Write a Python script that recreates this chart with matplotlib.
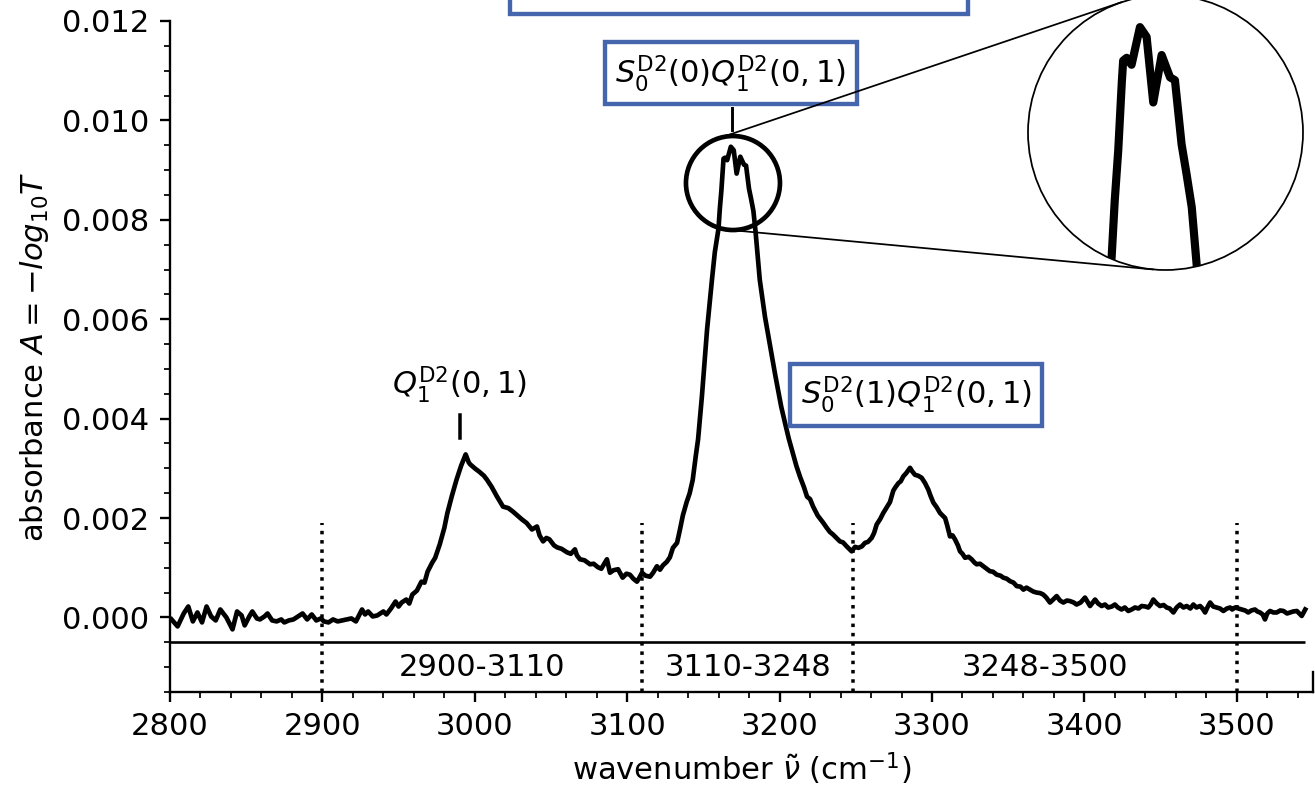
import numpy as np
import matplotlib
matplotlib.use("Agg")
import matplotlib.pyplot as plt
from matplotlib.patches import Circle, Ellipse, Rectangle
from matplotlib.lines import Line2D
from matplotlib.ticker import MultipleLocator, FormatStrFormatter

plt.rcParams["font.size"] = 10.5

# spectrum, split into pieces
wn_base = [2801, 2805, 2809, 2812, 2815, 2818, 2821, 2824, 2827, 2830, 2833, 2837, 2841, 2844,
           2847, 2849, 2852, 2854, 2857, 2859, 2862, 2864, 2867, 2870, 2873, 2875, 2878, 2881,
           2884, 2887, 2890, 2893, 2896, 2899, 2901, 2904, 2907, 2910, 2913, 2916, 2919, 2922,
           2924, 2926, 2928, 2930, 2933, 2936, 2938, 2940, 2942, 2945]
a_base = [-0.00004, -0.00018, 0.00008, 0.00022, -0.00008, 0.00010, -0.00010, 0.00022, 0.00002,
          -0.00006, 0.00016, 0.00000, -0.00024, 0.00012, 0.00004, -0.00016, 0.00002, 0.00012,
          -0.00002, -0.00004, 0.00002, 0.00008, -0.00006, -0.00008, -0.00004, -0.00010, -0.00006,
          -0.00004, 0.00002, 0.00008, -0.00004, 0.00006, -0.00006, -0.00002, -0.00008, -0.00010,
          -0.00004, -0.00008, -0.00006, -0.00004, -0.00002, -0.00008, 0.00004, 0.00016, 0.00006,
          0.00012, 0.00002, 0.00004, 0.00008, 0.00012, 0.00006, 0.00018]

wn_band1 = [2948, 2950, 2952, 2955, 2957, 2959, 2962, 2965, 2967, 2969, 2972, 2974, 2977, 2980,
            2982, 2985, 2988, 2991, 2994, 2996, 2997, 3000, 3003, 3006, 3008, 3011, 3014.6,
            3018.5, 3022, 3025, 3028, 3031, 3034, 3037.5, 3040.8, 3042.5, 3044.8, 3047, 3049,
            3052, 3054, 3057, 3060.5, 3063, 3065.7, 3067, 3069, 3072, 3075.6, 3078, 3080.8, 3083,
            3086.7, 3088.7, 3091, 3094, 3097, 3099.5, 3101.8, 3104, 3106.4, 3108, 3109.7, 3112,
            3115, 3117, 3119.5, 3121.5, 3123.5, 3126, 3128]
a_band1 = [0.00032, 0.00022, 0.00030, 0.00036, 0.00028, 0.00046, 0.00054, 0.00072, 0.00070,
           0.00092, 0.00110, 0.00120, 0.00147, 0.00180, 0.00210, 0.00245, 0.00277, 0.00305,
           0.00328, 0.00312, 0.00308, 0.00300, 0.00293, 0.00285, 0.00277, 0.00263, 0.00243,
           0.00223, 0.00220, 0.00213, 0.00205, 0.00197, 0.00190, 0.00177, 0.00183, 0.00165,
           0.00153, 0.00160, 0.00157, 0.00145, 0.00141, 0.00138, 0.00131, 0.00128, 0.00137,
           0.00125, 0.00117, 0.00115, 0.00107, 0.00108, 0.00101, 0.00098, 0.00117, 0.00090,
           0.00095, 0.00097, 0.00080, 0.00088, 0.00086, 0.00078, 0.00072, 0.00080, 0.00090,
           0.00084, 0.00082, 0.00090, 0.00103, 0.00096, 0.00105, 0.00112, 0.00121]

wn_band2 = [3130, 3132.7, 3134.5, 3136.5, 3139, 3141, 3143, 3145, 3146.5, 3149, 3152.4, 3155.6,
            3157.5, 3159.9, 3160.8, 3161.8, 3162.8, 3163.2, 3164.2, 3165.6, 3168.0, 3169.9,
            3171.8, 3174.2, 3176.6, 3178.0, 3179.9, 3181.3, 3182.8, 3184.2, 3187, 3190.4, 3193,
            3195, 3197, 3199, 3201, 3203.5, 3206, 3208, 3211, 3213.4, 3216, 3218, 3220, 3222,
            3225, 3228.5, 3231, 3233, 3235, 3238, 3239.6, 3241.6, 3244, 3247.3]
a_band2 = [0.00140, 0.00150, 0.00175, 0.00205, 0.00232, 0.00250, 0.00277, 0.00325, 0.00358,
           0.00444, 0.00579, 0.00679, 0.00735, 0.00782, 0.00823, 0.00859, 0.00907, 0.00923,
           0.00925, 0.00920, 0.00947, 0.00940, 0.00893, 0.00927, 0.00911, 0.00909, 0.00863,
           0.00842, 0.00818, 0.00777, 0.00679, 0.00605, 0.00560, 0.00525, 0.00490, 0.00458,
           0.00425, 0.00392, 0.00360, 0.00338, 0.00305, 0.00283, 0.00262, 0.00243, 0.00238,
           0.00223, 0.00205, 0.00191, 0.00180, 0.00172, 0.00167, 0.00158, 0.00153, 0.00151,
           0.00143, 0.00133]

wn_band3 = [3249.5, 3251.7, 3254, 3256, 3258, 3260.4, 3262, 3263.7, 3266, 3268, 3270, 3272.4,
            3274.6, 3276, 3277.9, 3279.5, 3281.2, 3283, 3285.6, 3287, 3288.8, 3291, 3293.2,
            3295.5, 3297.6, 3299, 3300.9, 3303, 3305.3, 3307, 3308.6, 3310, 3311.8, 3313.5,
            3315.1, 3317, 3318.4, 3320, 3321.7, 3324, 3326, 3328, 3329.3, 3331.5, 3333.7, 3336,
            3338, 3340, 3342.5, 3345, 3346.8, 3349, 3351.2, 3353.5, 3355.6, 3358, 3360, 3362,
            3364.3, 3366.5, 3368.7, 3371, 3373, 3375]
a_band3 = [0.00142, 0.00140, 0.00143, 0.00150, 0.00152, 0.00160, 0.00170, 0.00187, 0.00198,
           0.00210, 0.00220, 0.00232, 0.00255, 0.00262, 0.00270, 0.00274, 0.00284, 0.00290,
           0.00301, 0.00294, 0.00287, 0.00285, 0.00281, 0.00270, 0.00257, 0.00245, 0.00231,
           0.00222, 0.00210, 0.00205, 0.00200, 0.00185, 0.00163, 0.00165, 0.00157, 0.00145,
           0.00133, 0.00128, 0.00120, 0.00122, 0.00117, 0.00110, 0.00107, 0.00108, 0.00103,
           0.00098, 0.00093, 0.00092, 0.00086, 0.00084, 0.00080, 0.00078, 0.00073, 0.00070,
           0.00063, 0.00062, 0.00056, 0.00060, 0.00056, 0.00052, 0.00050, 0.00049, 0.00046,
           0.00040]

wn_tail = [3377.4, 3379.5, 3381.8, 3384, 3386.2, 3388.5, 3390.5, 3393, 3394.9, 3397.5, 3400.4,
           3403.7, 3405.5, 3407, 3409, 3411.3, 3413.5, 3415.6, 3418, 3420, 3422, 3424.4, 3426.5,
           3428.8, 3431, 3433.2, 3435.5, 3437.6, 3440, 3441.9, 3443.5, 3445.2, 3447.5, 3449.6,
           3452, 3454, 3456, 3458.4, 3460.5, 3462.7, 3465, 3467.1, 3469.5, 3471.5, 3473.5,
           3475.9, 3477.5, 3479.2, 3481, 3482.5, 3484.5, 3486.8, 3489, 3491.2, 3493.5, 3495.6,
           3497, 3498.9, 3501, 3503.2, 3505.5, 3507.5, 3509.5, 3511.9, 3513.5, 3515.2, 3517,
           3518.5, 3520, 3521.8, 3524, 3526.2, 3528.5, 3530.6, 3533, 3535, 3537, 3539.4, 3541,
           3542.6, 3544.9]
a_tail = [0.00030, 0.00036, 0.00043, 0.00034, 0.00030, 0.00034, 0.00033, 0.00030, 0.00026,
          0.00030, 0.00040, 0.00023, 0.00030, 0.00036, 0.00028, 0.00023, 0.00026, 0.00020,
          0.00022, 0.00026, 0.00020, 0.00016, 0.00020, 0.00013, 0.00016, 0.00020, 0.00018,
          0.00023, 0.00022, 0.00020, 0.00026, 0.00036, 0.00028, 0.00023, 0.00025, 0.00020,
          0.00018, 0.00010, 0.00020, 0.00026, 0.00020, 0.00023, 0.00018, 0.00026, 0.00020,
          0.00023, 0.00018, 0.00010, 0.00022, 0.00030, 0.00022, 0.00020, 0.00018, 0.00013,
          0.00018, 0.00020, 0.00016, 0.00020, 0.00018, 0.00016, 0.00014, 0.00010, 0.00014,
          0.00016, 0.00012, 0.00010, 0.00006, -0.00004, 0.00008, 0.00013, 0.00010, 0.00010,
          0.00014, 0.00013, 0.00008, 0.00010, 0.00012, 0.00013, 0.00008, 0.00003, 0.00016]

wn = np.array(wn_base + wn_band1 + wn_band2 + wn_band3 + wn_tail)
absorb = np.array(a_base + a_band1 + a_band2 + a_band3 + a_tail)

# integration ranges
edges = [2900, 3110, 3248, 3500]
range_labels = ["2900-3110", "3110-3248", "3248-3500"]

blue = "#4565ad"

W, H, DPI = 1315, 785, 210
fig = plt.figure(figsize=(W / DPI, H / DPI), dpi=DPI)
ax = fig.add_axes([170 / W, 93 / H, 1143 / W, 671 / H])

ax.plot(wn, absorb, color="black", lw=1.6, zorder=3, solid_joinstyle="round")
ax.set_xlim(2800, 3550)
ax.set_ylim(-0.0015, 0.012)

# range separators and labels
ax.hlines(-0.0005, 2800, wn[-1], color="black", lw=0.9)
ax.vlines(edges, -0.0015, 0.0019, color="black", lw=1.2, linestyles=":")
for i, lab in enumerate(range_labels):
    ax.text((edges[i] + edges[i + 1]) / 2, -0.001, lab, ha="center", va="center")

ax.set_xticks(np.arange(2800, 3501, 100))
ax.xaxis.set_minor_locator(MultipleLocator(20))
ax.set_yticks(np.arange(0, 0.0121, 0.002))
ax.yaxis.set_minor_locator(MultipleLocator(0.0005))
ax.yaxis.set_major_formatter(FormatStrFormatter("%.3f"))
ax.spines["top"].set_visible(False)
ax.spines["right"].set_bounds(-0.0015, -0.0011)
ax.tick_params(which="both", right=False, top=False)

ax.set_xlabel(r"wavenumber $\tilde{\nu}$ (cm$^{-1}$)", labelpad=3)
ax.set_ylabel(r"absorbance $A = -log_{10}T$")

# peak labels
ax.plot([2990, 2990], [0.00362, 0.00408], color="black", lw=1.2)
ax.text(2990, 0.00468, r"$Q_1^{\mathrm{D2}}(0,1)$", ha="center", va="center")

ax.plot([3168.8, 3168.8], [0.00981, 0.01025], color="black", lw=1.0)
box = dict(boxstyle="square,pad=0.35", fc="white", ec=blue, lw=1.5)
ax.text(3168.1, 0.01095, r"$S_0^{\mathrm{D2}}(0)Q_1^{\mathrm{D2}}(0,1)$", ha="center",
        va="center", bbox=box)
ax.text(3289.5, 0.00448, r"$S_0^{\mathrm{D2}}(1)Q_1^{\mathrm{D2}}(0,1)$", ha="center",
        va="center", bbox=box)

# box cut off at the top
fig.add_artist(Rectangle((510 / W, 1 - 14 / H), (968 - 510) / W, 0.1, transform=fig.transFigure,
                         fc="white", ec=blue, lw=1.5, clip_on=False))

# small circle around the peak
r_small = 47
cx, cy = 3169.4, 0.00874
ax.add_patch(Ellipse((cx, cy), 2 * r_small / (1143 / 750), 2 * r_small / (671 / 0.0135),
                     fill=False, ec="black", lw=1.6, zorder=4))

# zoomed inset in a circle
r_big = 137.5
bx, by = 1165.5, H - 132.5
ax_in = fig.add_axes([(bx - r_big) / W, (by - r_big) / H, 2 * r_big / W, 2 * r_big / H])
ax_in.set_axis_off()
ax_in.set_xlim(3136.0, 3214.6)
ax_in.set_ylim(0.00773, 0.0097)
clip = Circle((0.5, 0.5), 0.5, transform=ax_in.transAxes)
ln, = ax_in.plot(wn, absorb, color="black", lw=2.8, solid_joinstyle="round",
                 solid_capstyle="round")
ln.set_clip_path(clip)
ax_in.add_patch(Circle((0.5, 0.5), 0.5, transform=ax_in.transAxes, fill=False,
                       ec="black", lw=0.6, clip_on=False))

# tangent lines between the two circles (pixel space)
c1 = np.array(ax.transData.transform((cx, cy)))
c2 = np.array([bx, by])
d = c2 - c1
dist = np.hypot(*d)
base = np.arctan2(d[1], d[0])
alpha = np.arccos(-(r_big - r_small) / dist)
for s in (1, -1):
    ang = base + s * alpha
    m = np.array([np.cos(ang), np.sin(ang)])
    a = c1 + r_small * m
    b = c2 + r_big * m
    fig.add_artist(Line2D([a[0] / W, b[0] / W], [a[1] / H, b[1] / H], transform=fig.transFigure,
                          color="black", lw=0.6))

fig.savefig("out.png", dpi=DPI)
